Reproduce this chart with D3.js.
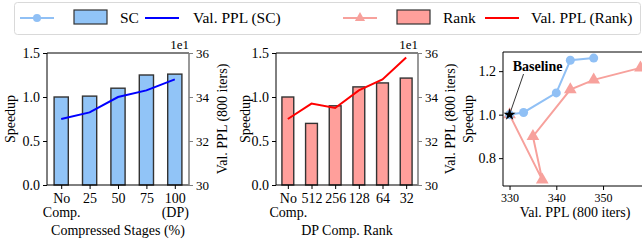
<!DOCTYPE html>
<html>
<head>
<meta charset="utf-8">
<script src="https://cdn.jsdelivr.net/npm/d3@7"></script>
<style>
  body { margin: 0; background: #fff; }
  svg, svg text { font-family: "Liberation Serif", "Times New Roman", serif; }
  svg { display: block; }
  .tick text { font-size: 14px; fill: #000; }
</style>
</head>
<body>
<svg id="chart" width="642" height="245"></svg>
<script>
// data
var scCats = [["No", "Comp."], ["25"], ["50"], ["75"], ["100", "(DP)"]];
var scSpeedup = [1.0, 1.01, 1.1, 1.25, 1.26];
var scPPL = [330, 333, 340, 343, 348];

var rankCats = [["No", "Comp."], ["512"], ["256"], ["128"], ["64"], ["32"]];
var rankSpeedup = [1.0, 0.7, 0.9, 1.115, 1.16, 1.215];
var rankPPL = [330, 337, 335, 343, 348, 358];

var speedupTicks = [0, 0.5, 1.0, 1.5];
var pplTicks = [300, 320, 340, 360];

var blueBar = "#91c4f7", redBar = "#ff9f9b";
var blueDot = "#90c0f5", redDot = "#f7a19c";

var svg = d3.select("#chart");

// strip the axis defaults so the serif font is used
function plain(sel) {
  sel.attr("font-family", null).attr("font-size", null);
  sel.select(".domain").remove();
  return sel;
}

// bar + line panel
function barPanel(opt) {
  var top = 53, bottom = 185;
  var n = opt.cats.length;
  var x = d3.scaleLinear().domain([-0.5, n - 0.5]).range([opt.left, opt.right]);
  var y = d3.scaleLinear().domain([0, 1.5]).range([bottom, top]);
  var y2 = d3.scaleLinear().domain([300, 360]).range([bottom, top]);
  var g = svg.append("g");
  var bw = x(0.5) - x(0);

  g.selectAll("rect.bar").data(opt.speedup).enter().append("rect")
      .attr("class", "bar")
      .attr("x", function(d, i) { return x(i) - bw / 2; })
      .attr("y", function(d) { return y(d); })
      .attr("width", bw)
      .attr("height", function(d) { return bottom - y(d); })
      .attr("fill", opt.barColor)
      .attr("stroke", "#333")
      .attr("stroke-width", 1.4);

  var line = d3.line()
      .x(function(d, i) { return x(i); })
      .y(function(d) { return y2(d); });
  g.append("path").datum(opt.ppl)
      .attr("d", line)
      .attr("fill", "none")
      .attr("stroke", opt.lineColor)
      .attr("stroke-width", 2);

  // frame
  g.append("path")
      .attr("d", "M" + opt.right + "," + top + "H" + opt.left + "V" + bottom + "H" + opt.right)
      .attr("fill", "none").attr("stroke", "#000").attr("stroke-width", 1);
  g.append("line")
      .attr("x1", opt.right).attr("x2", opt.right).attr("y1", top).attr("y2", bottom)
      .attr("stroke", "#808080").attr("stroke-width", 1.6);

  // left axis
  g.append("g").attr("transform", "translate(" + opt.left + ",0)")
      .call(d3.axisLeft(y).tickValues(speedupTicks).tickFormat(d3.format(".1f")).tickSize(4).tickPadding(3))
      .call(plain);

  // right axis
  var yb = g.append("g").attr("transform", "translate(" + opt.right + ",0)")
      .call(d3.axisRight(y2).tickValues(pplTicks).tickFormat(function(d) { return d / 10; }).tickSize(4).tickPadding(3))
      .call(plain);
  yb.selectAll(".tick line").attr("stroke", "#808080");
  yb.selectAll(".tick text").style("font-size", "13px");

  g.append("text")
      .attr("x", opt.right).attr("y", top - 4)
      .attr("text-anchor", "end")
      .style("font-size", "13px")
      .text("1e1");

  // x axis
  var xa = g.append("g").attr("transform", "translate(0," + bottom + ")")
      .call(d3.axisBottom(x).tickValues(d3.range(n)).tickFormat("").tickSize(4))
      .call(plain);
  xa.selectAll(".tick").each(function(d) {
    var t = d3.select(this).append("text")
        .attr("text-anchor", "middle")
        .attr("fill", "#000")
        .style("font-size", "14px");
    opt.cats[d].forEach(function(s, k) {
      t.append("tspan").attr("x", 0).attr("y", 18 + k * 14).text(s);
    });
  });

  g.append("text")
      .attr("x", (opt.left + opt.right) / 2).attr("y", 235)
      .attr("text-anchor", "middle").style("font-size", "14px")
      .text(opt.xTitle);

  g.append("text")
      .attr("transform", "translate(" + opt.yTitleX + "," + (top + bottom) / 2 + ")rotate(-90)")
      .attr("text-anchor", "middle").attr("dy", "0.35em").style("font-size", "14px")
      .text("Speedup");

  g.append("text")
      .attr("transform", "translate(" + opt.y2TitleX + "," + (top + bottom) / 2 + ")rotate(-90)")
      .attr("text-anchor", "middle").attr("dy", "0.35em").style("font-size", "14px")
      .text("Val. PPL (800 iters)");
}

barPanel({
  cats: scCats, speedup: scSpeedup, ppl: scPPL,
  left: 47, right: 189, barColor: blueBar, lineColor: "#0000ff",
  xTitle: "Compressed Stages (%)", yTitleX: 10, y2TitleX: 222
});

barPanel({
  cats: rankCats, speedup: rankSpeedup, ppl: rankPPL,
  left: 276, right: 418, barColor: redBar, lineColor: "#ff0000",
  xTitle: "DP Comp. Rank", yTitleX: 245, y2TitleX: 450
});

// scatter panel
(function() {
  var left = 503, right = 647, top = 52, bottom = 186;
  var x = d3.scaleLinear().domain([328.6, 359.4]).range([left, right]);
  var y = d3.scaleLinear().domain([0.672, 1.288]).range([bottom, top]);
  var g = svg.append("g");

  var line = d3.line()
      .x(function(d) { return x(d[0]); })
      .y(function(d) { return y(d[1]); });

  var rankPts = d3.zip(rankPPL, rankSpeedup);
  var scPts = d3.zip(scPPL, scSpeedup);

  g.append("path").datum(rankPts).attr("d", line)
      .attr("fill", "none").attr("stroke", redDot).attr("stroke-width", 2);
  g.selectAll("path.tri").data(rankPts).enter().append("path")
      .attr("class", "tri")
      .attr("d", d3.symbol().type(d3.symbolTriangle).size(70))
      .attr("transform", function(d) { return "translate(" + x(d[0]) + "," + y(d[1]) + ")"; })
      .attr("fill", redDot);

  g.append("path").datum(scPts).attr("d", line)
      .attr("fill", "none").attr("stroke", blueDot).attr("stroke-width", 2);
  g.selectAll("circle.dot").data(scPts).enter().append("circle")
      .attr("class", "dot")
      .attr("cx", function(d) { return x(d[0]); })
      .attr("cy", function(d) { return y(d[1]); })
      .attr("r", 4.5)
      .attr("fill", blueDot);

  // baseline star + annotation
  var bx = x(scPPL[0]), by = y(scSpeedup[0]);
  g.append("path")
      .attr("d", d3.symbol().type(d3.symbolStar).size(45))
      .attr("transform", "translate(" + bx + "," + by + ")")
      .attr("fill", "#000");
  g.append("line")
      .attr("x1", bx + 14).attr("y1", 74).attr("x2", bx + 1).attr("y2", by - 3)
      .attr("stroke", "#000").attr("stroke-width", 0.8);
  g.append("text")
      .attr("x", bx + 28).attr("y", 71)
      .attr("text-anchor", "middle")
      .style("font-size", "14px").style("font-weight", "bold")
      .text("Baseline");

  g.append("path")
      .attr("d", "M" + right + "," + top + "H" + left + "V" + bottom + "H" + right)
      .attr("fill", "none").attr("stroke", "#000").attr("stroke-width", 1);

  g.append("g").attr("transform", "translate(" + left + ",0)")
      .call(d3.axisLeft(y).tickValues([0.8, 1.0, 1.2]).tickFormat(d3.format(".1f")).tickSize(4).tickPadding(3))
      .call(plain);
  var xa = g.append("g").attr("transform", "translate(0," + bottom + ")")
      .call(d3.axisBottom(x).tickValues([330, 340, 350]).tickSize(4).tickPadding(3))
      .call(plain);
  xa.selectAll(".tick text").style("font-size", "12px");

  g.append("text")
      .attr("x", 575).attr("y", 217)
      .attr("text-anchor", "middle").style("font-size", "14px")
      .text("Val. PPL (800 iters)");
  g.append("text")
      .attr("transform", "translate(468," + (top + bottom) / 2 + ")rotate(-90)")
      .attr("text-anchor", "middle").attr("dy", "0.35em").style("font-size", "14px")
      .text("Speedup");
})();

// legend
(function() {
  var lg = svg.append("g");
  lg.append("rect")
      .attr("x", 14.5).attr("y", 2.5).attr("width", 626).attr("height", 32).attr("rx", 3)
      .attr("fill", "#fff").attr("stroke", "#d9d9d9");
  var cy = 18;
  function lineItem(x0, color) {
    lg.append("line").attr("x1", x0).attr("x2", x0 + 34).attr("y1", cy).attr("y2", cy)
        .attr("stroke", color).attr("stroke-width", 2);
  }
  function patch(x0, color) {
    lg.append("rect").attr("x", x0).attr("y", 10).attr("width", 33).attr("height", 14)
        .attr("fill", color).attr("stroke", "#333").attr("stroke-width", 1.2);
  }
  function label(x0, s) {
    lg.append("text").attr("x", x0).attr("y", cy).attr("dy", "0.35em")
        .style("font-size", "15.5px").text(s);
  }
  lineItem(20, blueDot);
  lg.append("circle").attr("cx", 37).attr("cy", cy).attr("r", 4).attr("fill", blueDot);
  patch(74, blueBar);
  label(120, "SC");
  lineItem(145, "#0000ff");
  label(193, "Val. PPL (SC)");

  lineItem(343, redDot);
  lg.append("path").attr("d", d3.symbol().type(d3.symbolTriangle).size(45))
      .attr("transform", "translate(360," + cy + ")").attr("fill", redDot);
  patch(397, redBar);
  label(443, "Rank");
  lineItem(485, "#ff0000");
  label(531, "Val. PPL (Rank)");
})();
</script>
</body>
</html>
